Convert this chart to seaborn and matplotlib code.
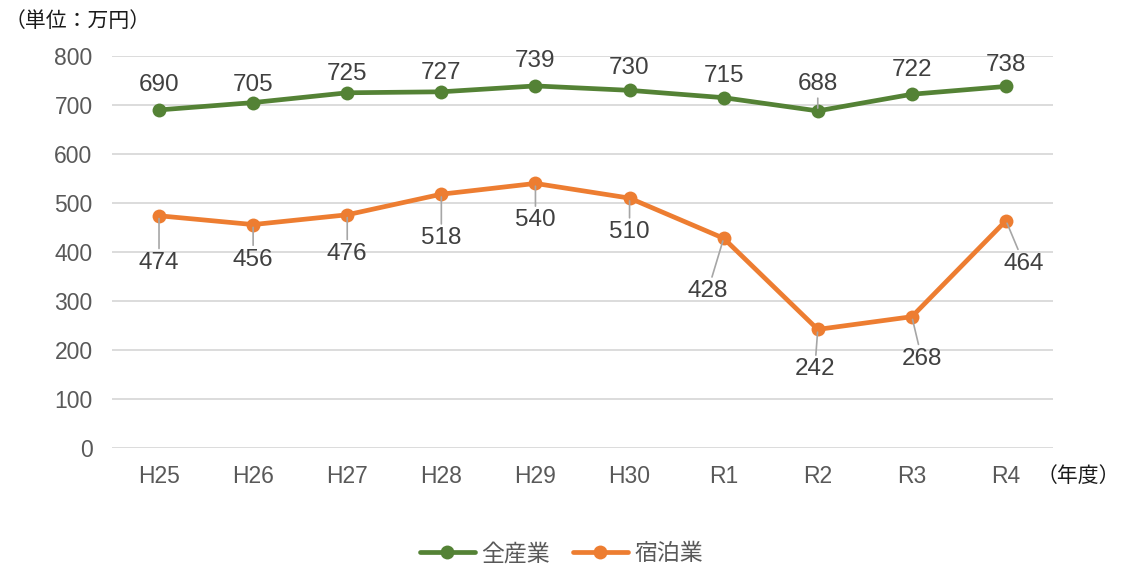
import matplotlib
matplotlib.use("Agg")
import matplotlib.pyplot as plt
import pandas as pd
import seaborn as sns

years = ["H25", "H26", "H27", "H28", "H29", "H30", "R1", "R2", "R3", "R4"]
all_industries = [690, 705, 725, 727, 739, 730, 715, 688, 722, 738]
lodging = [474, 456, 476, 518, 540, 510, 428, 242, 268, 464]
series_names = ["全産業", "宿泊業"]

# label placement (pixel offsets from each point) and whether a leader line is drawn
green_offsets = [(0, 25), (0, 18), (0, 19), (0, 19), (0, 25), (0, 22), (0, 22), (0, 27), (0, 24), (0, 21)]
green_leader = [False, False, False, False, False, False, False, True, False, False]
orange_offsets = [(0, -47), (0, -35), (0, -39), (0, -44), (0, -37), (0, -34), (-16, -53), (-3, -40), (10, -42), (18, -43)]
orange_leader = [True, True, True, True, True, True, True, True, True, True]

GREEN = "#548235"
ORANGE = "#ED7D31"
TICK = "#595959"
LABEL = "#404040"

sns.set_theme(style="white")
plt.rcParams["font.family"] = ["Liberation Sans", "Noto Sans CJK JP"]

df = pd.DataFrame({
    "年度": years * 2,
    "値": all_industries + lodging,
    "系列": [series_names[0]] * len(years) + [series_names[1]] * len(years),
})

fig = plt.figure(figsize=(11.23, 5.66), dpi=100)
ax = fig.add_axes([0.0997, 0.2085, 0.838, 0.6925])

sns.lineplot(
    data=df, x="年度", y="値", hue="系列", palette=[GREEN, ORANGE],
    marker="o", markersize=10, markeredgewidth=0, linewidth=3.4,
    sort=False, ax=ax, legend=True,
)

ax.set_ylim(0, 800)
ax.set_xlim(-0.5, len(years) - 0.5)
ax.set_yticks(range(0, 801, 100))
ax.grid(axis="y", color="#D9D9D9", linewidth=1.3)
ax.grid(axis="x", visible=False)
for s in ax.spines.values():
    s.set_visible(False)
ax.set_xlabel("")
ax.set_ylabel("")
ax.tick_params(axis="both", length=0, labelsize=16.5, labelcolor=TICK)
ax.tick_params(axis="x", pad=12)
ax.tick_params(axis="y", pad=14)
ax.set_axisbelow(True)


def label_series(values, offsets, leaders):
    for i, (v, off, lead) in enumerate(zip(values, offsets, leaders)):
        arrow = dict(arrowstyle="-", color="#A6A6A6", lw=1.2, shrinkA=0, shrinkB=2) if lead else None
        ax.annotate(
            f"{v}", xy=(i, v), xytext=off, textcoords="offset pixels",
            ha="center", va="center", fontsize=17.5, color=LABEL,
            arrowprops=arrow, annotation_clip=False,
        )


label_series(all_industries, green_offsets, green_leader)
label_series(lodging, orange_offsets, orange_leader)

handles, labels = ax.get_legend_handles_labels()
ax.get_legend().remove()
for h in handles:
    h.set_markersize(10)
    h.set_linewidth(3.4)
fig.legend(handles, labels, loc="center", bbox_to_anchor=(0.5, 0.022), ncol=2,
           frameon=False, fontsize=16.5, labelcolor=TICK, handlelength=2.4,
           columnspacing=1.0, handletextpad=0.3)

fig.text(0.004, 0.963, "（単位：万円）", fontsize=15, color="#1A1A1A", ha="left", va="center")
fig.text(0.997, 0.159, "（年度）", fontsize=15, color="#1A1A1A", ha="right", va="center")

fig.savefig("out.png", dpi=100)
